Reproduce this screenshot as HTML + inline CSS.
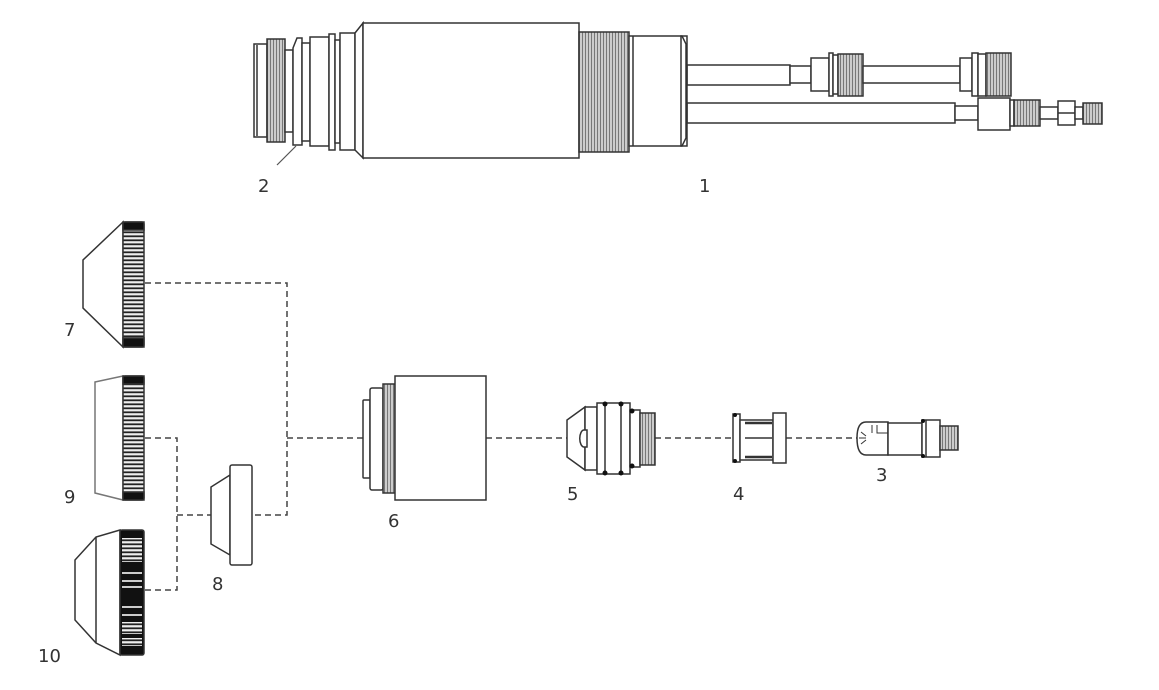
<!DOCTYPE html>
<html><head><meta charset="utf-8"><style>
html,body{margin:0;padding:0;background:#fff;width:1159px;height:690px;overflow:hidden}
svg{display:block}
text{font-family:"DejaVu Sans","Liberation Sans",sans-serif;font-size:18px;fill:#333}
</style></head><body>
<svg width="1159" height="690" viewBox="0 0 1159 690" xmlns="http://www.w3.org/2000/svg">
<defs>
<pattern id="knurl" width="4" height="4" patternUnits="userSpaceOnUse">
<rect width="4" height="4" fill="#222"/><rect y="1.2" width="4" height="2.2" fill="#eee"/>
</pattern>
<pattern id="thr" width="3" height="6" patternUnits="userSpaceOnUse">
<rect width="3" height="6" fill="#ccc"/><rect width="1" height="6" fill="#777"/>
</pattern>
</defs>
<g fill="#fff" stroke="#333" stroke-width="1.5">
<rect x="254" y="44" width="13" height="93"/>
<line x1="257" y1="45" x2="257" y2="136"/>
<rect x="267" y="39" width="18" height="103" fill="url(#thr)"/>
<rect x="285" y="50" width="8" height="82"/>
<path d="M293 145 L293 48 L297 38 L302 38 L302 145 Z"/>
<rect x="302" y="43" width="8" height="98"/>
<rect x="310" y="37" width="19" height="109"/>
<rect x="329" y="34" width="6" height="116"/>
<rect x="335" y="40" width="5" height="103"/>
<rect x="340" y="33" width="15" height="117"/>
<path d="M355 33 L363 23 L363 158 L355 150 Z"/>
<rect x="363" y="23" width="216" height="135"/>
<rect x="579" y="32" width="50" height="120" fill="url(#thr)"/>
<path d="M629 36 L682 36 L686 44 L686 138 L682 146 L629 146 Z"/>
<line x1="633" y1="36" x2="633" y2="146"/>
<rect x="687" y="65" width="103" height="20"/>
<rect x="790" y="66" width="21" height="17"/>
<rect x="811" y="58" width="18" height="33"/>
<rect x="829" y="53" width="4" height="43"/>
<rect x="833" y="55" width="5" height="39"/>
<rect x="838" y="54" width="25" height="42" fill="url(#thr)"/>
<rect x="863" y="66" width="97" height="17"/>
<rect x="960" y="58" width="12" height="33"/>
<rect x="972" y="53" width="6" height="43"/>
<rect x="978" y="54" width="8" height="42"/>
<rect x="986" y="53" width="25" height="43" fill="url(#thr)"/>
<rect x="687" y="103" width="268" height="20"/>
<rect x="955" y="106" width="23" height="14"/>
<rect x="978" y="98" width="32" height="32"/>
<rect x="1010" y="100" width="4" height="26"/>
<rect x="1014" y="100" width="26" height="26" fill="url(#thr)"/>
<rect x="1040" y="107" width="18" height="12"/>
<rect x="1058" y="101" width="17" height="24"/>
<line x1="1058" y1="113" x2="1075" y2="113"/>
<rect x="1075" y="107" width="8" height="12"/>
<rect x="1083" y="103" width="19" height="21" fill="url(#thr)"/>
<rect x="681" y="36" width="6" height="110" fill="none"/>
</g>
<line x1="277" y1="165" x2="296" y2="146" stroke="#555" stroke-width="1.2"/>
<text x="258" y="192">2</text>
<text x="699" y="192">1</text>

<g fill="none" stroke="#444" stroke-width="1.5" stroke-dasharray="6,4">
<path d="M145 283 H287 V515 H252"/>
<path d="M287 438 H363"/>
<path d="M145 438 H177 V590 H145"/>
<path d="M177 515 H211"/>
<path d="M486 438 H567"/>
<path d="M655 438 H733"/>
<path d="M786 438 H857"/>
</g>

<g stroke="#333" stroke-width="1.5" fill="#fff">
<path d="M123 222 L83 260 L83 308 L123 347 Z"/>
<rect x="123" y="222" width="21" height="125" rx="2" fill="url(#knurl)"/>
<rect x="123" y="222" width="21" height="8" fill="#111"/>
<rect x="123" y="338" width="21" height="9" fill="#111"/>
<path d="M123 376 L95 382 L95 493 L123 500 Z" stroke="#777"/>
<rect x="123" y="376" width="21" height="124" rx="2" fill="url(#knurl)"/>
<rect x="123" y="376" width="21" height="8" fill="#111"/>
<rect x="123" y="492" width="21" height="8" fill="#111"/>
<path d="M120 530 L96 537 L75 560 L75 620 L96 643 L120 655 Z"/>
<line x1="96" y1="537" x2="96" y2="643"/>
<rect x="120" y="530" width="24" height="125" rx="2" fill="#111"/>
<rect x="122" y="538" width="20" height="24" fill="url(#knurl)" stroke="none"/>
<rect x="122" y="572" width="20" height="2" fill="#ccc" stroke="none"/>
<rect x="122" y="580" width="20" height="2" fill="#ccc" stroke="none"/>
<rect x="122" y="586" width="20" height="2" fill="#ccc" stroke="none"/>
<rect x="122" y="606" width="20" height="2" fill="#ccc" stroke="none"/>
<rect x="122" y="614" width="20" height="2" fill="#ccc" stroke="none"/>
<rect x="122" y="622" width="20" height="12" fill="url(#knurl)" stroke="none"/>
<rect x="122" y="638" width="20" height="8" fill="url(#knurl)" stroke="none"/>
<path d="M230 475 L211 487 L211 544 L230 555 Z"/>
<rect x="230" y="465" width="22" height="100" rx="2"/>
<rect x="363" y="400" width="7" height="78" rx="1"/>
<rect x="370" y="388" width="13" height="102" rx="2"/>
<rect x="383" y="384" width="12" height="109" fill="url(#thr)"/>
<rect x="395" y="376" width="91" height="124"/>
<path d="M585 407 L567 420 L567 457 L585 470 Z"/>
<rect x="585" y="407" width="12" height="63"/>
<path d="M584 430 h3 v17 h-3 a4 8 0 0 1 0 -17z"/>
<rect x="597" y="403" width="33" height="71"/>
<line x1="605" y1="403" x2="605" y2="474"/>
<line x1="621" y1="403" x2="621" y2="474"/>
<rect x="630" y="410" width="10" height="57"/>
<rect x="640" y="413" width="15" height="52" fill="url(#thr)"/>
<rect x="733" y="414" width="7" height="48"/>
<rect x="740" y="420" width="33" height="40"/>
<line x1="745" y1="423" x2="772" y2="423" stroke-width="2.5"/>
<line x1="745" y1="438" x2="772" y2="438"/>
<line x1="745" y1="457" x2="772" y2="457" stroke-width="2.5"/>
<rect x="773" y="413" width="13" height="50"/>
<path d="M888 422 L866 422 Q857 422 857 438 Q857 455 866 455 L888 455 Z"/>
<path d="M872 425 L872 433 M877 425 L877 433 L888 433 M859 438 L866 438 M861 432 L866 436 M861 444 L866 440" fill="none" stroke-width="1"/>
<rect x="888" y="423" width="34" height="32"/>
<rect x="922" y="420" width="18" height="37"/>
<line x1="926" y1="420" x2="926" y2="457"/>
<rect x="940" y="426" width="18" height="24" fill="url(#thr)"/>
</g>
<g fill="#111">
<circle cx="605" cy="404" r="2.5"/><circle cx="621" cy="404" r="2.5"/>
<circle cx="605" cy="473" r="2.5"/><circle cx="621" cy="473" r="2.5"/>
<circle cx="632" cy="411" r="2.5"/><circle cx="632" cy="466" r="2.5"/>
<circle cx="735" cy="415" r="2"/><circle cx="735" cy="461" r="2"/>
<circle cx="923" cy="421" r="2"/><circle cx="923" cy="456" r="2"/>
</g>
<text x="64" y="336">7</text>
<text x="64" y="503">9</text>
<text x="38" y="662">10</text>
<text x="212" y="590">8</text>
<text x="388" y="527">6</text>
<text x="567" y="500">5</text>
<text x="733" y="500">4</text>
<text x="876" y="481">3</text>
</svg>
</body></html>
